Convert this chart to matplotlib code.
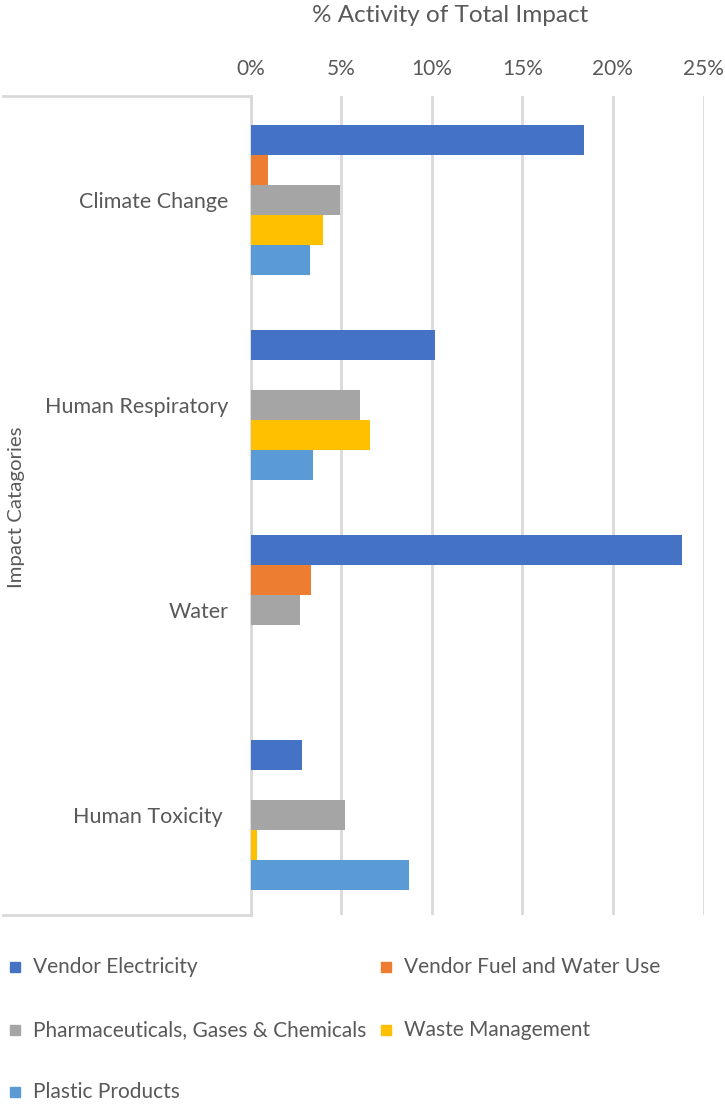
import matplotlib
matplotlib.use("Agg")
import matplotlib.pyplot as plt
from matplotlib.lines import Line2D
import numpy as np

plt.rcParams['font.family'] = ['Lato', 'DejaVu Sans']

categories = ["Climate Change", "Human Respiratory", "Water", "Human Toxicity "]
series_names = ["Vendor Electricity", "Vendor Fuel and Water Use",
                "Pharmaceuticals, Gases & Chemicals", "Waste Management",
                "Plastic Products"]
vendor_electricity = [18.4, 10.2, 23.8, 2.85]
vendor_fuel_water = [0.97, 0.0, 3.36, 0.0]
pharma_gases_chem = [4.95, 6.05, 2.73, 5.22]
waste_management = [4.0, 6.58, 0.0, 0.34]
plastic_products = [3.3, 3.45, 0.0, 8.76]
xticks = [0, 5, 10, 15, 20, 25]
xtick_labels = ["0%", "5%", "10%", "15%", "20%", "25%"]

series_values = [vendor_electricity, vendor_fuel_water, pharma_gases_chem,
                 waste_management, plastic_products]
colors = ["#4472C4", "#ED7D31", "#A5A5A5", "#FFC000", "#5B9BD5"]
text_color = "#595959"
grid_color = "#D9D9D9"

W, H = 725, 1104
fig = plt.figure(figsize=(W / 100, H / 100), dpi=100)
ax_left, ax_right, ax_top, ax_bot = 250.5, 703.5, 96, 915
ax = fig.add_axes([ax_left / W, 1 - ax_bot / H, (ax_right - ax_left) / W, (ax_bot - ax_top) / H])

n_series = len(series_values)
bar_h = 30 / 204.75
shift = 2 / 204.75
y_centers = np.arange(len(categories))
for i, vals in enumerate(series_values):
    offs = (i - (n_series - 1) / 2) * bar_h + shift
    ax.barh(y_centers + offs, vals, height=bar_h, color=colors[i],
            label=series_names[i], zorder=3)

ax.set_ylim(len(categories) - 0.5, -0.5)
ax.set_xlim(0, 25)
ax.xaxis.tick_top()
ax.set_xticks(xticks)
ax.set_xticklabels(xtick_labels, fontsize=15, color=text_color)
ax.tick_params(axis='x', length=0, pad=12)
ax.set_yticks(y_centers + shift)
ax.set_yticklabels(categories, fontsize=15.5, color=text_color)
ax.tick_params(axis='y', length=0, pad=16)
ax.grid(axis='x', color=grid_color, linewidth=2, zorder=0)
for s in ["top", "right", "bottom"]:
    ax.spines[s].set_visible(False)
ax.spines["left"].set_color(grid_color)
ax.spines["left"].set_linewidth(2)

# left category box lines
for yy in (ax_top, ax_bot):
    fig.add_artist(Line2D([3 / W, ax_left / W], [1 - yy / H, 1 - yy / H],
                          color=grid_color, linewidth=2))

fig.text(450 / W, 1 - 16 / H, "% Activity of Total Impact", fontsize=17.5,
         color=text_color, ha='center', va='center')
fig.text(17 / W, 1 - 507 / H, "Impact Catagories", fontsize=14.7,
         color=text_color, ha='center', va='center', rotation=90)

# legend
leg_pos = [(15, 967), (386, 967), (15, 1030), (386, 1030), (15, 1092)]
for i, (x, y) in enumerate(leg_pos):
    fig.add_artist(plt.Rectangle((x / W - 5 / W, 1 - y / H - 5 / H), 10 / W, 10 / H,
                                 transform=fig.transFigure, color=colors[i]))
    fig.text((x + 18) / W, 1 - y / H, series_names[i], fontsize=15,
             color=text_color, ha='left', va='center')

fig.savefig("out.png", dpi=100)
